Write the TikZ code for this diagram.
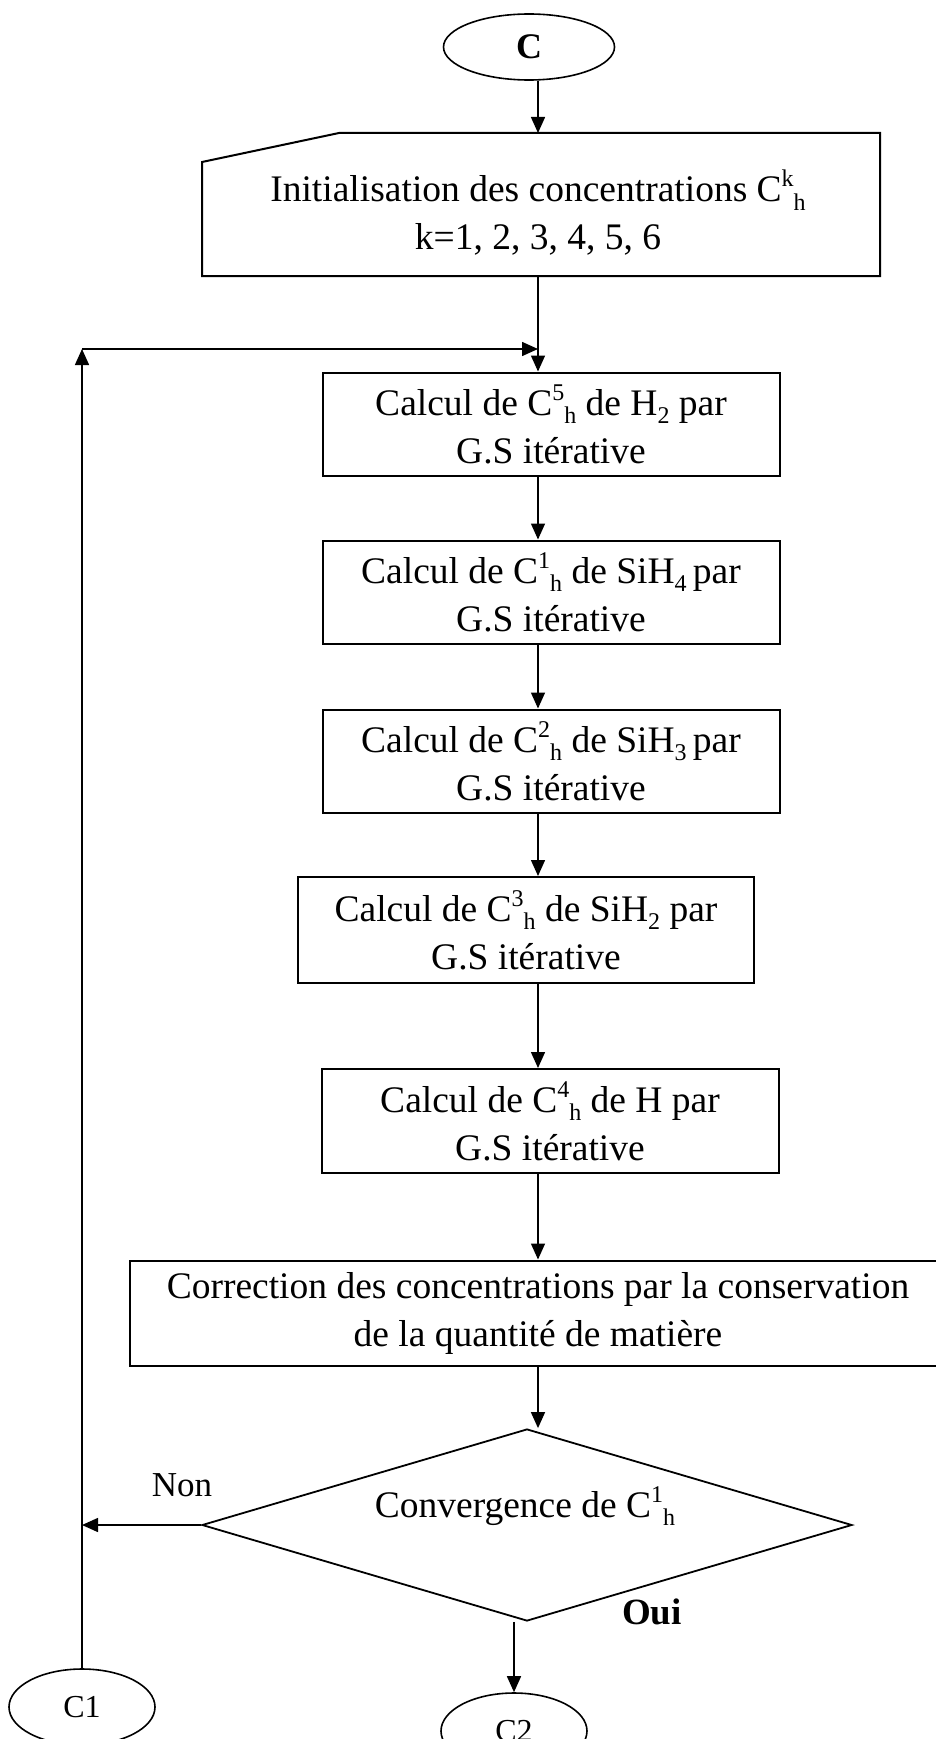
\documentclass[tikz,border=0pt]{standalone}
\usepackage{fontspec}
\setmainfont{Liberation Serif}
\usetikzlibrary{shapes.geometric,arrows.meta}

% concentration symbol: raised index followed by a lowered "h"
\newcommand{\concidx}[2]{\raisebox{0.40em}{\fontsize{24}{24}\selectfont #1}%
  \raisebox{-0.22em}{\fontsize{24}{24}\selectfont #2}}
\newcommand{\lowidx}[1]{\raisebox{-0.22em}{\fontsize{24}{24}\selectfont #1}}

\begin{document}
\begin{tikzpicture}[x=1pt,y=-1pt,
  font=\fontsize{37.5}{48}\selectfont,
  conn/.style={line width=1.5pt},
  arr/.style={line width=1.5pt,-{Triangle[length=16pt,width=14pt]}},
  stepbox/.style={draw,line width=2pt,rectangle,inner sep=0pt,align=center,
    minimum width=457pt,minimum height=103pt},
  term/.style={draw,line width=1.6pt,ellipse,inner sep=0pt,
    minimum width=146pt,minimum height=76pt,font=\fontsize{32}{36}\selectfont},
  decision/.style={draw,line width=1.8pt,diamond,aspect=3.4,inner sep=0pt,
    minimum width=650pt,minimum height=192pt}
]
\useasboundingbox (0,0) rectangle (936,1739);

% main flow axis
\coordinate (axis) at (538,0);

% start terminal
\node[term,minimum width=171pt,minimum height=66pt,
  font=\fontsize{36}{40}\selectfont\bfseries] (start) at (529,47) {C};

% manual-input block for the initial concentrations
\coordinate (initTop) at (538,133);
\coordinate (initBot) at (538,276);
\draw[line width=2pt] (202,162) -- (339,133) -- (880,133) -- (880,276)
  -- (202,276) -- cycle;
\node[align=center] (init) at (538,213)
  {Initialisation des concentrations C\concidx{k}{h}\\
   k=1, 2, 3, 4, 5, 6};

% Gauss-Seidel steps
\node[stepbox] (b1) at (551,424)
  {Calcul de C\concidx{5}{h} de H\lowidx{2} par\\G.S itérative};
\node[stepbox] (b2) at (551,592)
  {Calcul de C\concidx{1}{h} de SiH\lowidx{4}\,par\\G.S itérative};
\node[stepbox] (b3) at (551,761)
  {Calcul de C\concidx{2}{h} de SiH\lowidx{3}\,par\\G.S itérative};
\node[stepbox,minimum width=456pt,minimum height=106pt] (b4) at (526,930)
  {Calcul de C\concidx{3}{h} de SiH\lowidx{2} par\\G.S itérative};
\node[stepbox,minimum height=104pt] (b5) at (550,1121)
  {Calcul de C\concidx{4}{h} de H par\\G.S itérative};

% mass-conservation correction
\node[stepbox,minimum width=816pt,minimum height=105pt] (corr) at (538,1313)
  {Correction des concentrations par la conservation\\de la quantité de matière};

% convergence test
\node[decision] (dec) at (527,1525) {};
\node (decText) at (525,1506) {Convergence de C\concidx{1}{h}};

% connectors
\node[term] (c1) at (82,1707) {C1};
\node[term] (c2) at (514,1731) {C2};

\coordinate (loop) at (82,349);
\coordinate (join) at (538,349);

\draw[arr] (start.south -| axis) -- (initTop);
\draw[arr] (initBot) -- (b1.north -| axis);
\draw[arr] (b1.south -| axis) -- (b2.north -| axis);
\draw[arr] (b2.south -| axis) -- (b3.north -| axis);
\draw[arr] (b3.south -| axis) -- (b4.north -| axis);
\draw[arr] (b4.south -| axis) -- (b5.north -| axis);
\draw[arr] (b5.south -| axis) -- (corr.north -| axis);
\draw[arr] (corr.south -| axis) -- (dec.north -| axis);

% loop back when not converged
\draw[arr] (dec.west) -- (dec.west -| c1.north);
\node (non) at (182,1485) {\fontsize{35}{40}\selectfont Non};
\draw[arr] (c1.north) -- (loop);
\draw[arr] (loop) -- (join);

% exit when converged
\draw[arr] (dec.south -| c2.north) -- (c2.north);
\node (oui) at (652,1612) {\fontsize{37}{42}\selectfont\bfseries Oui};
\end{tikzpicture}
\end{document}
